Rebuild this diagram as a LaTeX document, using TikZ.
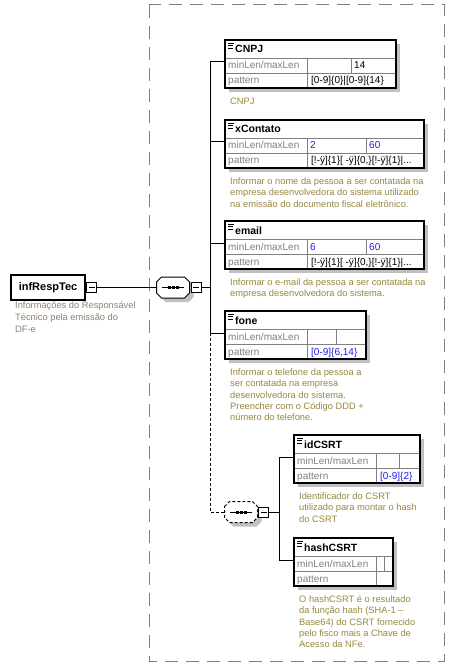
\documentclass[tikz,border=0pt]{standalone}
\usepackage{fontspec}
\setmainfont{Liberation Sans}
\usetikzlibrary{calc}
\definecolor{descolive}{RGB}{150,134,62}
\definecolor{descgray}{RGB}{140,128,116}
\definecolor{lblgray}{RGB}{128,128,128}
\definecolor{valblue}{RGB}{30,30,235}
\definecolor{shadowgray}{RGB}{192,192,192}

\tikzset{
  boxtitle/.style={font=\fontsize{10.5}{12}\selectfont\bfseries, inner sep=0pt, anchor=base west},
  rowlabel/.style={font=\fontsize{10}{12}\selectfont, text=lblgray, inner sep=0pt, anchor=base west},
  rowvalue/.style={font=\fontsize{10}{12}\selectfont, inner sep=0pt, anchor=base west},
  desc/.style={font=\fontsize{9.3}{11.3}\selectfont, text=descolive, align=left, inner sep=0pt, anchor=north west},
  gridline/.style={lblgray, line width=0.8pt},
  wire/.style={line width=1pt},
  optwire/.style={line width=1pt, dash pattern=on 3pt off 2pt},
}

% element box: name, left, top, right, second divider, title, minLen, maxLen, pattern
\newcommand{\elembox}[9]{%
  \fill[shadowgray] (#2+4,#3+4) rectangle (#4+4,#3+52);
  \fill[white] (#2,#3) rectangle (#4,#3+48);
  \draw[gridline] (#2,#3+18) -- (#4,#3+18);
  \draw[gridline] (#2,#3+33) -- (#4,#3+33);
  \draw[gridline] (#2+82,#3+18) -- (#2+82,#3+48);
  \draw[gridline] (#5,#3+18) -- (#5,#3+33);
  \draw[line width=1.2pt] (#2,#3) rectangle (#4,#3+48);
  \draw[line width=0.7pt] (#2+3,#3+3) -- (#2+9,#3+3) (#2+3,#3+5.5) -- (#2+8,#3+5.5) (#2+3,#3+8) -- (#2+8,#3+8);
  \node[boxtitle] (#1) at (#2+10,#3+13) {#6};
  \node[rowlabel] (#1-l1) at (#2+3,#3+29) {minLen/maxLen};
  \node[rowlabel] (#1-l2) at (#2+3,#3+44) {pattern};
  \node[rowvalue] (#1-min) at (#2+85,#3+29) {#7};
  \node[rowvalue] (#1-max) at (#5+3,#3+29) {#8};
  \node[rowvalue] (#1-pat) at (#2+86,#3+44) {#9};
  \coordinate (#1-in) at (#2,#3+22);
}

% minus box: name, centre x, centre y
\newcommand{\minusbox}[3]{%
  \draw[fill=white, line width=1pt] (#2-5,#3-5) rectangle (#2+5,#3+5);
  \draw[line width=0.8pt] (#2-3,#3) -- (#2+3,#3);
  \coordinate (#1-w) at (#2-5,#3);
  \coordinate (#1-e) at (#2+5,#3);
}

% sequence compositor: name, centre x, centre y, line style
\newcommand{\seqcomp}[4]{%
  \fill[shadowgray, shift={(4,4)}] (#2-16.5,#3-5.5) -- (#2-11.5,#3-10.5) -- (#2+11.5,#3-10.5) -- (#2+16.5,#3-5.5)
    -- (#2+16.5,#3+5.5) -- (#2+11.5,#3+10.5) -- (#2-11.5,#3+10.5) -- (#2-16.5,#3+5.5) -- cycle;
  \draw[fill=white, line width=1pt, #4] (#2-16.5,#3-5.5) -- (#2-11.5,#3-10.5) -- (#2+11.5,#3-10.5) -- (#2+16.5,#3-5.5)
    -- (#2+16.5,#3+5.5) -- (#2+11.5,#3+10.5) -- (#2-11.5,#3+10.5) -- (#2-16.5,#3+5.5) -- cycle;
  \draw[line width=0.8pt] (#2-11,#3) -- (#2+11,#3);
  \fill (#2-5.5,#3-1.5) rectangle (#2-2.5,#3+1.5);
  \fill (#2-1.5,#3-1.5) rectangle (#2+1.5,#3+1.5);
  \fill (#2+2.5,#3-1.5) rectangle (#2+5.5,#3+1.5);
  \coordinate (#1-w) at (#2-16.5,#3);
  \coordinate (#1-e) at (#2+16.5,#3);
}

\begin{document}
\begin{tikzpicture}[x=1pt, y=-1pt]
  %%%%% START %%%%%
  \useasboundingbox (0,0) rectangle (455,668);

  % content frame
  \draw[lblgray, line width=1pt, dash pattern=on 13pt off 8pt] (149,5) rectangle (444,661);

  % root element
  \draw[line width=1.2pt, fill=white] (11,275) rectangle (85,300);
  \node[font=\fontsize{11}{13}\selectfont\bfseries, inner sep=0pt] (infresptec) at (48,287.5) {infRespTec};
  \minusbox{rootmin}{91.5}{287.5}
  \node[desc, text=descgray, font=\fontsize{9.3}{11.8}\selectfont] (infresptec-desc) at (15,301.5)
    {Informações do Responsável\\Técnico pela emissão do\\DF-e};

  % sequences
  \seqcomp{seqA}{173}{287.5}{solid}
  \minusbox{seqAmin}{196}{287.5}
  \seqcomp{seqB}{241}{512}{dash pattern=on 3pt off 2pt}
  \minusbox{seqBmin}{263.5}{512}
  \coordinate (spine) at (210,0);
  \coordinate (spineB) at (279,0);

  % child elements
  \elembox{cnpj}{225}{40}{396}{351}{CNPJ}{}{14}{[0-9]\{0\}|[0-9]\{14\}}
  \elembox{xcontato}{225}{120}{424}{366}{xContato}{\textcolor{valblue}{2}}{\textcolor{valblue}{60}}{[!-ÿ]\{1\}[ -ÿ]\{0,\}[!-ÿ]\{1\}|...}
  \elembox{email}{225}{221}{424}{366}{email}{\textcolor{valblue}{6}}{\textcolor{valblue}{60}}{[!-ÿ]\{1\}[ -ÿ]\{0,\}[!-ÿ]\{1\}|...}
  \elembox{fone}{225}{311}{366}{336}{fone}{}{}{\textcolor{valblue}{[0-9]\{6,14\}}}
  \elembox{idcsrt}{294}{435}{420}{399}{idCSRT}{}{}{\textcolor{valblue}{[0-9]\{2\}}}
  \elembox{hashcsrt}{294}{538}{393}{384}{hashCSRT}{}{}{}

  \node[desc] (cnpj-desc) at (230,97.5) {CNPJ};
  \node[desc] (xcontato-desc) at (230,177.5)
    {Informar o nome da pessoa a ser contatada na\\empresa desenvolvedora do sistema utilizado\\na emissão do documento fiscal eletrônico.};
  \node[desc] (email-desc) at (230,278.5)
    {Informar o e-mail da pessoa a ser contatada na\\empresa desenvolvedora do sistema.};
  \node[desc] (fone-desc) at (230,368.5)
    {Informar o telefone da pessoa a\\ser contatada na empresa\\desenvolvedora do sistema.\\Preencher com o Código DDD +\\número do telefone.};
  \node[desc] (idcsrt-desc) at (299,492.5)
    {Identificador do CSRT\\utilizado para montar o hash\\do CSRT};
  \node[desc] (hashcsrt-desc) at (299,595.5)
    {O hashCSRT é o resultado\\da função hash (SHA-1 –\\Base64) do CSRT fornecido\\pelo fisco mais a Chave de\\Acesso da NFe.};

  % connectors
  \draw[wire] (rootmin-e) -- (seqA-w);
  \draw[wire] (seqAmin-e) -- (seqAmin-e -| spine);
  \draw[wire] (cnpj-in -| spine) -- (fone-in -| spine);
  \foreach \el in {cnpj,xcontato,email,fone}
    \draw[wire] (\el-in -| spine) -- (\el-in);
  \draw[optwire] (fone-in -| spine) |- (seqB-w);
  \draw[wire] (seqBmin-e) -- (seqBmin-e -| spineB);
  \draw[wire] (idcsrt-in -| spineB) -- (hashcsrt-in -| spineB);
  \foreach \el in {idcsrt,hashcsrt}
    \draw[wire] (\el-in -| spineB) -- (\el-in);

  %%%%% END %%%%%
\end{tikzpicture}
\end{document}
